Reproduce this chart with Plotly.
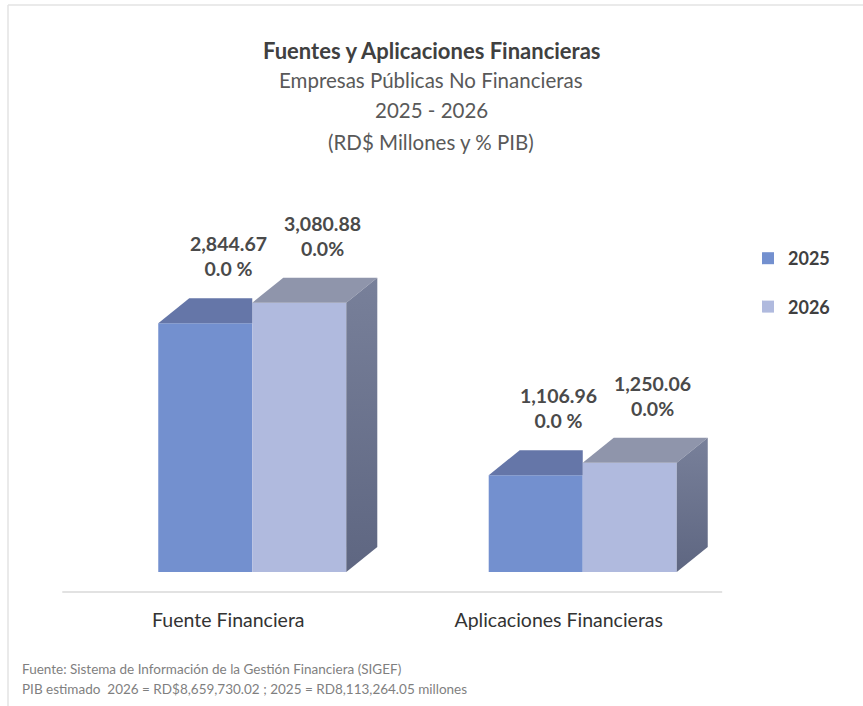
import plotly.graph_objects as go

# ---------------- data ----------------
categories = ["Fuente Financiera", "Aplicaciones Financieras"]
years = ["2025", "2026"]
values_2025 = [2844.67, 1106.96]
values_2026 = [3080.88, 1250.06]
pct_2025 = ["0.0 %", "0.0 %"]
pct_2026 = ["0.0%", "0.0%"]

title_lines = ["Fuentes y Aplicaciones Financieras",
               "Empresas Públicas No Financieras",
               "2025 - 2026",
               "(RD$ Millones y % PIB)"]
footer_lines = ["Fuente: Sistema de Información de la Gestión Financiera (SIGEF)",
                "PIB estimado  2026 = RD$8,659,730.02 ; 2025 = RD8,113,264.05 millones"]

# ---------------- style / geometry ----------------
FONT = "Lato, 'Open Sans', sans-serif"
W, H = 863, 706
ML, MR, MT, MB = 54, 82, 200, 114
PW, PH = W - ML - MR, H - MT - MB
XR = [-0.6, 1.6]
YR = [-229, 4256]
BARGAP = 0.431
BW = (1 - BARGAP) / 2
DX = 31 / (PW / (XR[1] - XR[0]))       # depth offset in x units
DY = 25 / (PH / (YR[1] - YR[0]))       # depth offset in y units

C25_FRONT = "#7390cf"
C26_FRONT = "#b0bade"
C25_TOP = "#6576a8"
C26_TOP = "#8f95ab"
C26_SIDE_DARK = "#5e6681"
C26_SIDE_LIGHT = "#78809a"


def px_x(px):
    return (px - ML) / PW


def px_y(py):
    return (H - MB - py) / PH


fig = go.Figure()

x_idx = list(range(len(categories)))

fig.add_trace(go.Bar(x=x_idx, y=values_2025, name=years[0], legendgroup="a",
                     marker=dict(color=C25_FRONT, line=dict(width=0)),
                     hoverinfo="skip"))
fig.add_trace(go.Bar(x=x_idx, y=values_2026, name=years[1], legendgroup="b",
                     marker=dict(color=C26_FRONT, line=dict(width=0)),
                     hoverinfo="skip"))

# 3D faces computed from the data
for i, (v1, v2) in enumerate(zip(values_2025, values_2026)):
    x0, xm, x2 = i - BW, i, i + BW
    # visible top of 2025 bar (right part hidden behind 2026 bar)
    fig.add_trace(go.Scatter(
        x=[x0, xm, xm, x0 + DX, x0], y=[v1, v1, v1 + DY, v1 + DY, v1],
        fill="toself", fillcolor=C25_TOP, mode="lines", line=dict(width=0),
        showlegend=False, hoverinfo="skip"))
    # top of 2026 bar
    fig.add_trace(go.Scatter(
        x=[xm, x2, x2 + DX, xm + DX, xm], y=[v2, v2, v2 + DY, v2 + DY, v2],
        fill="toself", fillcolor=C26_TOP, mode="lines", line=dict(width=0),
        showlegend=False, hoverinfo="skip"))
    # right side of 2026 bar
    fig.add_trace(go.Scatter(
        x=[x2, x2 + DX, x2 + DX, x2, x2], y=[0, DY, v2 + DY, v2, 0],
        fill="toself", mode="lines", line=dict(width=0),
        fillgradient=dict(type="vertical", start=0, stop=v2 + DY,
                          colorscale=[[0, C26_SIDE_DARK], [1, C26_SIDE_LIGHT]]),
        showlegend=False, hoverinfo="skip"))

annotations = []
# data labels
for i in x_idx:
    for v, pct, xc in ((values_2025[i], pct_2025[i], i - BW / 2),
                       (values_2026[i], pct_2026[i], i + BW / 2)):
        annotations.append(dict(
            x=xc + DX * 0.75, y=v, xref="x", yref="y",
            text=f"{v:,.2f}<br>{pct}", showarrow=False,
            yanchor="bottom", yshift=41, align="center",
            font=dict(family=FONT, size=19.5, color="#4a4a4a", weight="bold")))

# title lines
title_y = [50, 80, 110, 142]
for k, (txt, yy) in enumerate(zip(title_lines, title_y)):
    annotations.append(dict(
        x=px_x(431), y=px_y(yy), xref="paper", yref="paper",
        text=txt, showarrow=False, xanchor="center", yanchor="middle",
        font=dict(family=FONT, size=22 if k == 0 else 20.5,
                  color="#404040" if k == 0 else "#595959",
                  weight="bold" if k == 0 else "normal")))

# footer
for txt, yy in zip(footer_lines, [669, 689]):
    annotations.append(dict(
        x=px_x(20), y=px_y(yy), xref="paper", yref="paper",
        text=txt, showarrow=False, xanchor="left", yanchor="middle",
        font=dict(family=FONT, size=13.5, color="#7f7f7f")))

shapes = [
    # horizontal axis / floor line
    dict(type="line", xref="x", yref="paper", x0=-0.575, x1=1.422, y0=0, y1=0,
         line=dict(color="#d9d9d9", width=1.5)),
    # faint chart frame (top & left)
    dict(type="line", xref="paper", yref="paper", x0=px_x(8), x1=px_x(863),
         y0=px_y(5), y1=px_y(5), line=dict(color="#e3e3e3", width=1.5)),
    dict(type="line", xref="paper", yref="paper", x0=px_x(8), x1=px_x(8),
         y0=px_y(5), y1=px_y(706), line=dict(color="#e3e3e3", width=1.5)),
]

fig.update_layout(
    width=W, height=H,
    margin=dict(l=ML, r=MR, t=MT, b=MB),
    paper_bgcolor="white", plot_bgcolor="white",
    barmode="group", bargap=BARGAP, bargroupgap=0,
    showlegend=True,
    legend=dict(x=px_x(748), y=px_y(240), xanchor="left", yanchor="top",
                tracegroupgap=22, bgcolor="rgba(0,0,0,0)",
                font=dict(family=FONT, size=18, color="#404040", weight="bold")),
    xaxis=dict(range=XR, tickvals=x_idx, ticktext=categories, showgrid=False,
               zeroline=False, showline=False, ticks="",
               ticklabelstandoff=14, ticklabelshift=-24,
               tickfont=dict(family=FONT, size=19.5, color="#333333")),
    yaxis=dict(range=YR, visible=False, showgrid=False, zeroline=False),
    annotations=annotations,
    shapes=shapes,
    font=dict(family=FONT),
)

fig.write_html("out.html", config={"displayModeBar": False},
               post_script="document.body.style.margin='0';document.body.style.padding='0';")
